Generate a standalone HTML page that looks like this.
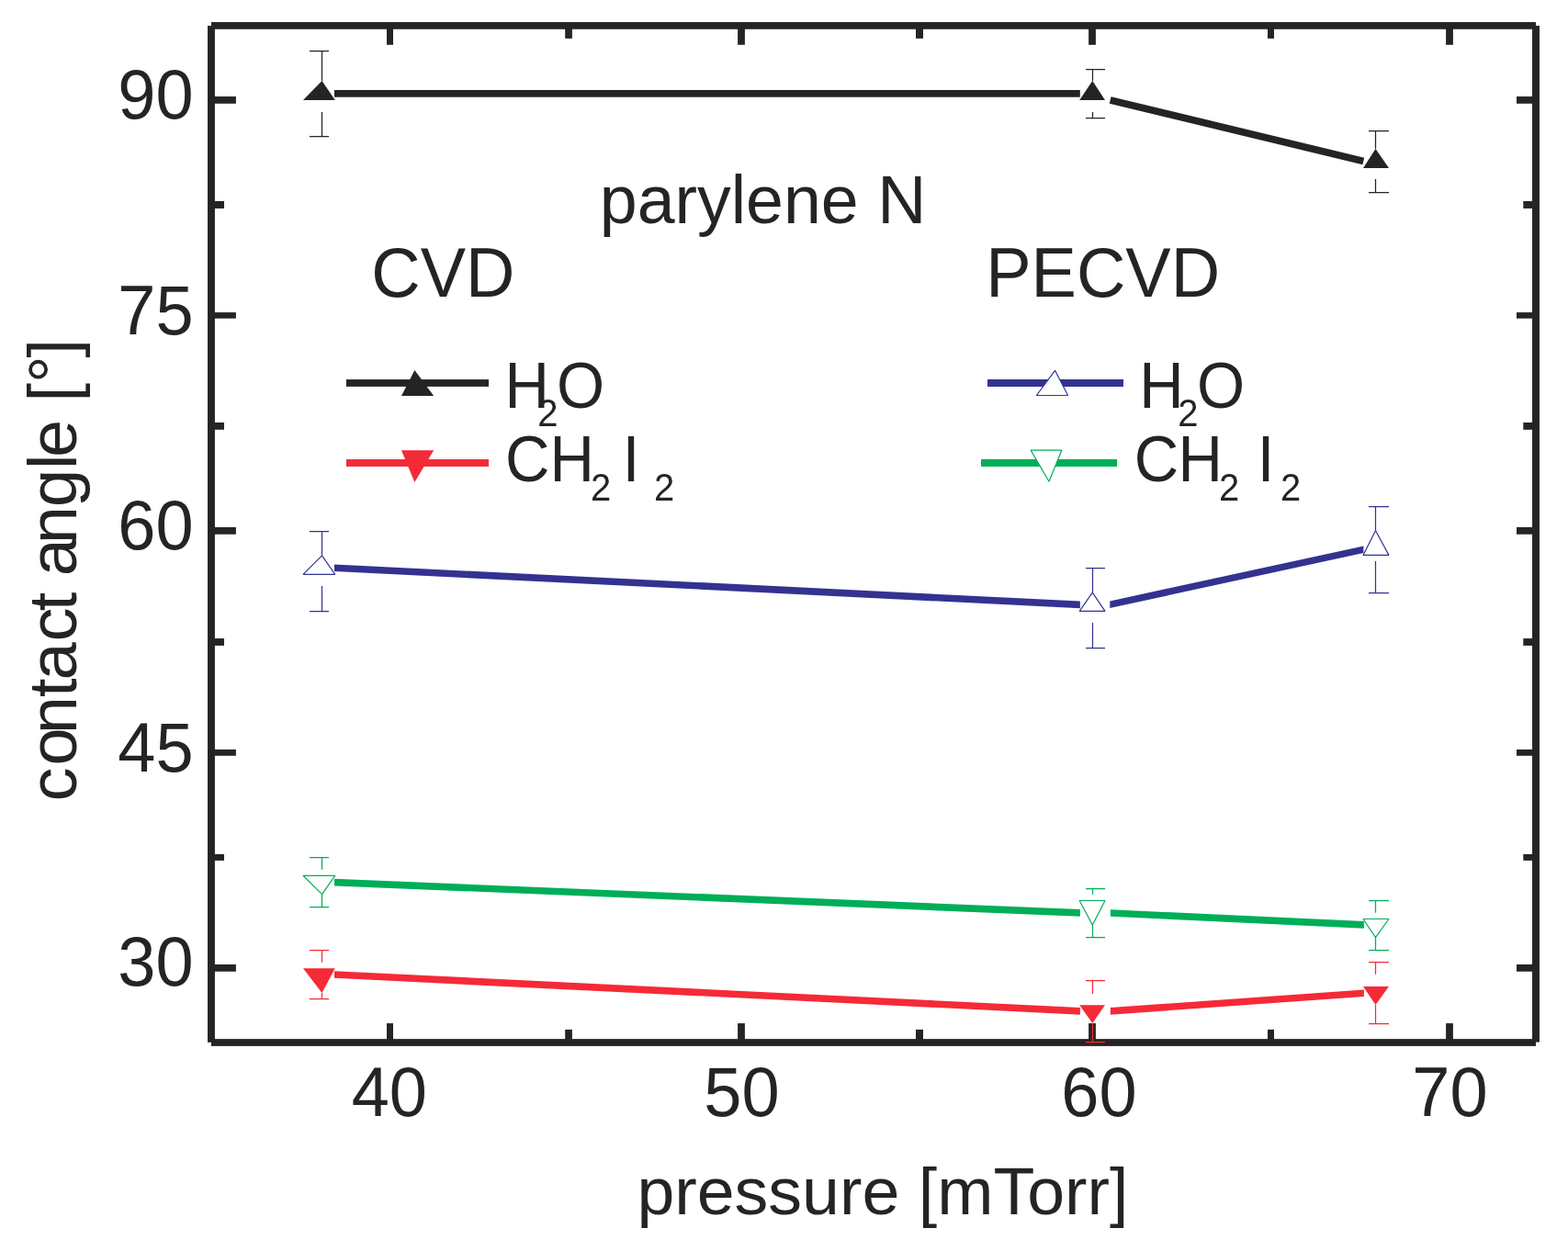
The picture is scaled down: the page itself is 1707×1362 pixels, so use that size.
<!DOCTYPE html>
<html lang="en"><head><meta charset="utf-8"><title>contact angle vs pressure</title>
<style>
html,body{margin:0;padding:0;background:#fff;}
body{width:1707px;height:1362px;overflow:hidden;}
svg{display:block;}
text{font-family:"Liberation Sans",sans-serif;fill:#262422;font-kerning:normal;}
.ln{stroke-width:7.7;fill:none;stroke-linecap:butt;}
.eb{stroke-width:1.25;fill:none;stroke-linecap:butt;}
</style></head><body>
<svg width="1707" height="1362" viewBox="0 0 1707 1362">
<rect x="0" y="0" width="1707" height="1362" fill="#ffffff"/>
<g fill="#262422">
<rect x="230" y="24.05" width="1442" height="7.75"/>
<rect x="230" y="1131.15" width="1442" height="7.75"/>
<rect x="226.02" y="28.05" width="7.9" height="1106.8"/>
<rect x="1668.04" y="28" width="7.95" height="1106.6"/>
<rect x="421.0" y="30" width="7.0" height="18.8"/>
<rect x="421.0" y="1114.1" width="7.0" height="18.9"/>
<rect x="615.2" y="30" width="7.7" height="11.9"/>
<rect x="615.2" y="1120.9" width="7.7" height="12.1"/>
<rect x="803.1" y="30" width="7.8" height="18.8"/>
<rect x="803.1" y="1114.1" width="7.8" height="18.9"/>
<rect x="997.0" y="30" width="8.0" height="11.9"/>
<rect x="997.0" y="1120.9" width="8.0" height="12.1"/>
<rect x="1185.1" y="30" width="7.8" height="18.8"/>
<rect x="1185.1" y="1114.1" width="7.8" height="18.9"/>
<rect x="1380.0" y="30" width="7.0" height="11.9"/>
<rect x="1380.0" y="1120.9" width="7.0" height="12.1"/>
<rect x="1574.1" y="30" width="7.8" height="18.8"/>
<rect x="1574.1" y="1114.1" width="7.8" height="18.9"/>
<rect x="232" y="105.05" width="24.9" height="7.75"/>
<rect x="1651.0" y="105.05" width="19.0" height="7.75"/>
<rect x="232" y="219.0" width="12.0" height="7.95"/>
<rect x="1658.3" y="219.0" width="11.7" height="7.95"/>
<rect x="232" y="340.1" width="24.9" height="6.6"/>
<rect x="1651.0" y="340.1" width="19.0" height="6.6"/>
<rect x="232" y="460.0" width="12.0" height="7.8"/>
<rect x="1658.3" y="460.0" width="11.7" height="7.8"/>
<rect x="232" y="574.0" width="24.9" height="7.75"/>
<rect x="1651.0" y="574.0" width="19.0" height="7.75"/>
<rect x="232" y="695.1" width="12.0" height="7.8"/>
<rect x="1658.3" y="695.1" width="11.7" height="7.8"/>
<rect x="232" y="816.0" width="24.9" height="6.8"/>
<rect x="1651.0" y="816.0" width="19.0" height="6.8"/>
<rect x="232" y="930.0" width="12.0" height="6.9"/>
<rect x="1658.3" y="930.0" width="11.7" height="6.9"/>
<rect x="232" y="1050.0" width="24.9" height="7.75"/>
<rect x="1651.0" y="1050.0" width="19.0" height="7.75"/>
</g>
<text transform="translate(210.6 128.5) scale(1.0 1.035)" font-size="74" text-anchor="end">90</text>
<text transform="translate(210.6 363.9) scale(1.0 1.035)" font-size="74" text-anchor="end">75</text>
<text transform="translate(210.6 598) scale(1.0 1.035)" font-size="74" text-anchor="end">60</text>
<text transform="translate(210.6 839.9) scale(1.0 1.035)" font-size="74" text-anchor="end">45</text>
<text transform="translate(210.6 1073.4) scale(1.0 1.035)" font-size="74" text-anchor="end">30</text>
<text transform="translate(423.8 1215.2) scale(1.0 1.035)" font-size="74" text-anchor="middle">40</text>
<text transform="translate(807.4 1215.2) scale(1.0 1.035)" font-size="74" text-anchor="middle">50</text>
<text transform="translate(1196.5 1215.2) scale(1.0 1.035)" font-size="74" text-anchor="middle">60</text>
<text transform="translate(1578.5 1215.2) scale(1.0 1.035)" font-size="74" text-anchor="middle">70</text>
<text transform="translate(693.4 1321.5) scale(1.0 0.99)" font-size="73.5" text-anchor="start">pressure [mTorr]</text>
<text transform="translate(83.0 872.0) rotate(-90) scale(1 0.99)" font-size="74.0" x="-0.5 38.57 72.72 112.98 131.6 173.4 206.83 247.99 244.85 279.67 320.1 360.91 373.94 415.1 434.42 455.02 482.52" y="0">contact angle [°]</text>
<text transform="translate(652.8 243)" font-size="73.5" text-anchor="start">parylene N</text>
<text transform="translate(404.3 322.8) scale(1.0 1.035)" font-size="74" text-anchor="start">CVD</text>
<text transform="translate(1073.2 322.7) scale(1.0 1.035)" font-size="74" text-anchor="start">PECVD</text>
<line class="ln" stroke="#262422" x1="364" y1="101.9" x2="1175.8" y2="101.9"/>
<line class="ln" stroke="#262422" x1="1208.65" y1="108.95" x2="1484.3" y2="175.6"/>
<polygon fill="#333291" points="364,614.4 1175.9,654.6 1175.9,662.2 364,622.0"/>
<polygon fill="#333291" points="1208.3,654.4 1484.4,594.5 1484.4,602.1 1208.3,662.0"/>
<polygon fill="#00ae58" points="364,956.8 1175.9,990.1 1175.9,997.7 364,964.4"/>
<polygon fill="#00ae58" points="1208.9,990.2 1484.9,1003.1 1484.9,1010.7 1208.9,997.8"/>
<polygon fill="#f52a37" points="364,1057.2 1175.9,1097.1 1175.9,1104.7 364,1064.8"/>
<polygon fill="#f52a37" points="1208.9,1097.1 1484.9,1077.4 1484.9,1085.0 1208.9,1104.7"/>
<path class="eb" stroke="#262422" d="M337 55.5 H358 M350.5 55.5 V88 M350.5 121.9 V148.5 M337 148.5 H358"/>
<polygon fill="#262422" points="330,108.9 364.8,108.9 350.5,88"/>
<path class="eb" stroke="#262422" d="M1182 75.5 H1203 M1189.5 75.5 V88 M1189.5 122.1 V128.5 M1182 128.5 H1203"/>
<polygon fill="#262422" points="1175.2,108.9 1203,108.9 1189.3,88"/>
<path class="eb" stroke="#262422" d="M1490 142.5 H1512 M1497.5 142.5 V162 M1497.5 195 V209.5 M1490 209.5 H1512"/>
<polygon fill="#262422" points="1484,182.9 1512,182.9 1497.5,162"/>
<path class="eb" stroke="#333291" d="M337 578.5 H358 M350.5 578.5 V604.8 M350.5 638.1 V665.5 M337 665.5 H358"/>
<polygon fill="#fff" stroke="#333291" stroke-width="1.2" stroke-linejoin="bevel" points="330,625.3 364.8,625.3 350.5,604.8"/>
<path class="eb" stroke="#333291" d="M1182 618.5 H1203 M1189.5 618.5 V645.1 M1189.5 678.1 V705.5 M1182 705.5 H1203"/>
<polygon fill="#fff" stroke="#333291" stroke-width="1.2" stroke-linejoin="bevel" points="1175.2,665.3 1203,665.3 1189.3,645.1"/>
<path class="eb" stroke="#333291" d="M1490 551.5 H1512 M1497.5 551.5 V577.8 M1497.5 611.1 V645.5 M1490 645.5 H1512"/>
<polygon fill="#fff" stroke="#333291" stroke-width="1.2" stroke-linejoin="bevel" points="1484,604.4 1512,604.4 1497.5,577.8"/>
<path class="eb" stroke="#00ae58" d="M337 933.5 H358 M350.5 933.5 V946.7 M350.5 973.6 V987.5 M337 987.5 H358"/>
<polygon fill="#fff" stroke="#00ae58" stroke-width="1.2" stroke-linejoin="bevel" points="330,953.3 364.8,953.3 350.5,973.6"/>
<path class="eb" stroke="#00ae58" d="M1182 967.5 H1203 M1189.5 967.5 V973.7 M1189.5 1007 V1020.5 M1182 1020.5 H1203"/>
<polygon fill="#fff" stroke="#00ae58" stroke-width="1.2" stroke-linejoin="bevel" points="1175.2,980.5 1203,980.5 1189.3,1007"/>
<path class="eb" stroke="#00ae58" d="M1490 980.5 H1512 M1497.5 980.5 V993.7 M1497.5 1020.6 V1034.5 M1490 1034.5 H1512"/>
<polygon fill="#fff" stroke="#00ae58" stroke-width="1.2" stroke-linejoin="bevel" points="1484,1000.5 1512,1000.5 1497.5,1020.6"/>
<path class="eb" stroke="#f52a37" d="M337 1034.5 H358 M350.5 1034.5 V1047.8 M350.5 1081.1 V1087.5 M337 1087.5 H358"/>
<polygon fill="#f52a37" points="330,1054.2 364.8,1054.2 350.5,1081.1"/>
<path class="eb" stroke="#f52a37" d="M1182 1067.5 H1203 M1189.5 1067.5 V1081.9 M1189.5 1114 V1134.5 M1182 1134.5 H1203"/>
<polygon fill="#f52a37" points="1175.2,1094.2 1203,1094.2 1189.3,1114"/>
<path class="eb" stroke="#f52a37" d="M1490 1047.5 H1512 M1497.5 1047.5 V1060.8 M1497.5 1094.1 V1114.5 M1490 1114.5 H1512"/>
<polygon fill="#f52a37" points="1484,1074.1 1512,1074.1 1497.5,1094.1"/>
<rect fill="#262422" x="377" y="413.1" width="155" height="7.8"/>
<polygon fill="#262422" points="437,430.9 472.2,430.9 451.4,402.9"/>
<rect fill="#f52a37" x="377" y="500.05" width="155" height="7.9"/>
<polygon fill="#f52a37" points="437,490.2 472.2,490.2 451.4,525.1"/>
<rect fill="#333291" x="1075" y="413" width="148" height="8"/>
<polygon fill="#fff" stroke="#333291" stroke-width="1.2" stroke-linejoin="bevel" points="1128.4,430.5 1162.6,430.5 1148.5,403.3"/>
<rect fill="#00ae58" x="1068" y="500" width="148" height="8"/>
<polygon fill="#fff" stroke="#00ae58" stroke-width="1.2" stroke-linejoin="bevel" points="1122.2,490.2 1155.8,490.2 1142,524.3"/>
<text transform="translate(0 443.7) scale(1 1.052)"><tspan x="549.41" y="0.0" font-size="67">H</tspan><tspan x="585.19" y="19.2" font-size="40">2</tspan><tspan x="605.92" y="0.0" font-size="67">O</tspan></text>
<text transform="translate(0 523.9) scale(1 1.052)"><tspan x="549.9" y="0.0" font-size="67">C</tspan><tspan x="598.41" y="0.0" font-size="67">H</tspan><tspan x="642.89" y="19.87" font-size="40">2</tspan><tspan x="677.82" y="0.0" font-size="67">I</tspan><tspan x="711.99" y="19.87" font-size="40">2</tspan></text>
<text transform="translate(0 443.7) scale(1 1.052)"><tspan x="1240.31" y="0.0" font-size="67">H</tspan><tspan x="1282.19" y="19.2" font-size="40">2</tspan><tspan x="1303.02" y="0.0" font-size="67">O</tspan></text>
<text transform="translate(0 523.9) scale(1 1.052)"><tspan x="1234.7" y="0.0" font-size="67">C</tspan><tspan x="1282.41" y="0.0" font-size="67">H</tspan><tspan x="1327.09" y="19.87" font-size="40">2</tspan><tspan x="1368.72" y="0.0" font-size="67">I</tspan><tspan x="1394.09" y="19.87" font-size="40">2</tspan></text>
</svg>
</body></html>
